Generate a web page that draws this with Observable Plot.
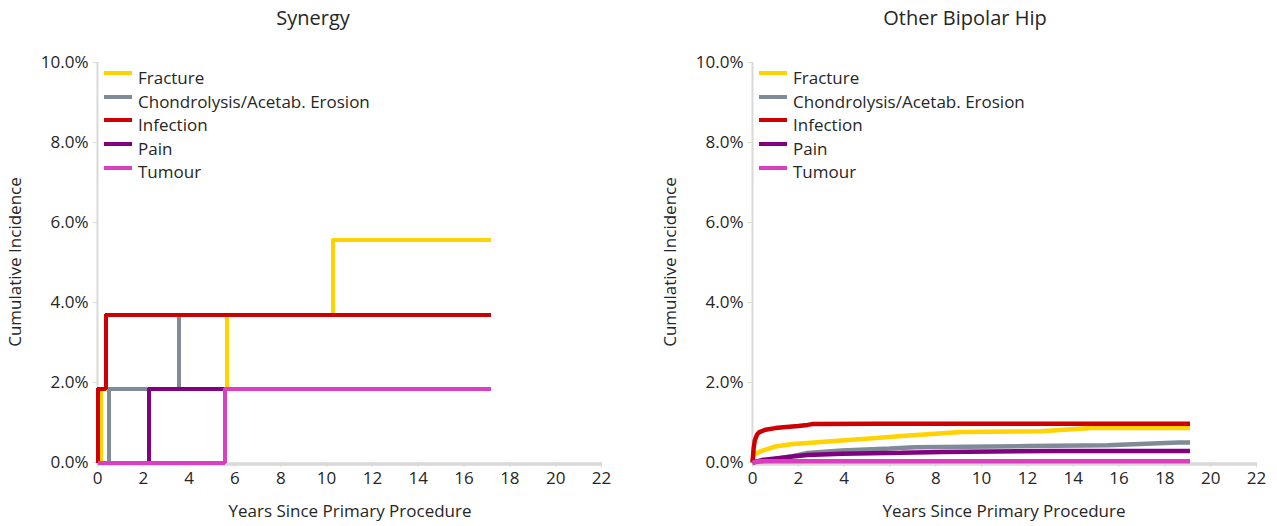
<!DOCTYPE html>
<html><head><meta charset="utf-8">
<script src="https://cdn.jsdelivr.net/npm/d3@7"></script>
<script src="https://cdn.jsdelivr.net/npm/@observablehq/plot@0.6"></script>
<style>
body{margin:0;background:#fff;font-family:"Open Sans",sans-serif;color:#262626}
#wrap{display:flex;width:1277px;height:526px;overflow:hidden}
.panel{position:relative;height:526px;flex:none}
.panel svg{display:block}
.title{position:absolute;top:5px;width:400px;font-size:20px;line-height:26px;text-align:center;white-space:nowrap}
.ylab{position:absolute;width:260px;height:22px;font-size:17px;line-height:22px;text-align:center;transform:rotate(-90deg);white-space:nowrap}
.xlab{position:absolute;width:320px;top:500px;font-size:17px;line-height:22px;text-align:center;white-space:nowrap}
.legend{position:absolute;top:67px}
.row{display:flex;align-items:flex-start;height:23.6px}
.sw{width:28px;height:4px;margin-top:4.3px;margin-right:6px}
.lt{font-size:17px;line-height:22px;white-space:nowrap}
</style></head>
<body><div id="wrap"></div>
<script>
// Categories and colours
const causes = ["Fracture", "Chondrolysis/Acetab. Erosion", "Infection", "Pain", "Tumour"];
const colors = ["#FFD200", "#7F8B98", "#CC0000", "#800080", "#DA3FBF"];
const xTicks = [0, 2, 4, 6, 8, 10, 12, 14, 16, 18, 20, 22];
const yTicks = [0, 2, 4, 6, 8, 10];

// Synergy (cumulative incidence %, step functions)
const synFractureT = [0, 0.17, 5.64, 10.27, 17.19];
const synFractureV = [0, 1.85, 3.70, 5.56, 5.56];
const synChondT = [0, 0.52, 3.57, 17.19];
const synChondV = [0, 1.85, 3.70, 3.70];
const synInfectionT = [0, 0.02, 0.35, 17.19];
const synInfectionV = [0, 1.85, 3.70, 3.70];
const synPainT = [0, 2.26, 17.19];
const synPainV = [0, 1.85, 1.85];
const synTumourT = [0, 5.57, 17.19];
const synTumourV = [0, 1.85, 1.85];

// Other Bipolar Hip
const obFractureT = [0, 0.05, 0.1, 0.4, 1.0, 1.75, 2.4, 3.9, 5.4, 6.5, 7.5, 9.1, 12.6, 13.6, 14.8, 19.1];
const obFractureV = [0, 0.15, 0.21, 0.29, 0.40, 0.46, 0.49, 0.55, 0.61, 0.66, 0.70, 0.76, 0.78, 0.82, 0.86, 0.86];
const obChondT = [0, 0.5, 1.0, 1.75, 2.4, 3.9, 6.0, 7.1, 12.1, 15.5, 18.6, 19.1];
const obChondV = [0, 0.04, 0.09, 0.16, 0.24, 0.30, 0.35, 0.38, 0.41, 0.43, 0.50, 0.50];
const obInfectionT = [0, 0.05, 0.1, 0.2, 0.3, 0.57, 1.0, 1.35, 2.0, 2.4, 2.6, 5.5, 19.1];
const obInfectionV = [0, 0.35, 0.55, 0.70, 0.76, 0.82, 0.86, 0.88, 0.91, 0.94, 0.96, 0.97, 0.97];
const obPainT = [0, 0.4, 1.0, 1.75, 2.4, 3.9, 6.5, 8.3, 13.2, 19.1];
const obPainV = [0, 0.06, 0.10, 0.15, 0.19, 0.22, 0.245, 0.265, 0.29, 0.29];
const obTumourT = [0, 0.3, 19.1];
const obTumourV = [0, 0.03, 0.03];

function rows(cause, ts, vs) { return ts.map((t, i) => ({cause, t, v: vs[i]})); }

const synData = [
  ...rows(causes[0], synFractureT, synFractureV),
  ...rows(causes[1], synChondT, synChondV),
  ...rows(causes[2], synInfectionT, synInfectionV),
  ...rows(causes[3], synPainT, synPainV),
  ...rows(causes[4], synTumourT, synTumourV)
];
const obData = [
  ...rows(causes[0], obFractureT, obFractureV),
  ...rows(causes[1], obChondT, obChondV),
  ...rows(causes[2], obInfectionT, obInfectionV),
  ...rows(causes[3], obPainT, obPainV),
  ...rows(causes[4], obTumourT, obTumourV)
];

function panel(cfg) {
  const div = document.createElement("div");
  div.className = "panel";
  div.style.width = cfg.width + "px";
  const chart = Plot.plot({
    width: cfg.width, height: 526,
    marginLeft: cfg.ml, marginRight: cfg.mr, marginTop: 62, marginBottom: 64,
    style: {fontFamily: "'Open Sans', sans-serif", fontSize: "17px", color: "#262626", background: "#fff"},
    x: {domain: [0, 22]},
    y: {domain: [0, 10]},
    color: {domain: causes, range: colors},
    marks: [
      Plot.ruleX([0], {y1: 0, y2: 10, stroke: "#d9d9d9", strokeWidth: 2}),
      Plot.ruleY([0], {x1: 0, x2: 22, stroke: "#d9d9d9", strokeWidth: 3.5, dy: 1.5}),
      Plot.axisX({ticks: xTicks, tickSize: 5, tickPadding: 4, fontSize: 17, stroke: "#d9d9d9", fill: "#262626", label: null, tickFormat: d => String(d)}),
      Plot.axisY({ticks: yTicks, tickSize: 4, tickPadding: 5, fontSize: 17, stroke: "#d9d9d9", fill: "#262626", label: null, tickFormat: d => d.toFixed(1) + "%"}),
      Plot.line(cfg.data, {x: "t", y: "v", z: "cause", stroke: "cause", curve: cfg.curve, strokeWidth: cfg.sw, strokeLinejoin: "miter", strokeLinecap: "butt", shapeRendering: cfg.crisp ? "crispEdges" : "auto"})
    ]
  });
  div.appendChild(chart);
  const title = document.createElement("div");
  title.className = "title"; title.textContent = cfg.title;
  title.style.left = (cfg.tc - 200) + "px";
  div.appendChild(title);
  const yl = document.createElement("div");
  yl.className = "ylab"; yl.textContent = "Cumulative Incidence";
  yl.style.left = (cfg.yc - 130) + "px"; yl.style.top = (262 - 11) + "px";
  div.appendChild(yl);
  const xl = document.createElement("div");
  xl.className = "xlab"; xl.textContent = "Years Since Primary Procedure";
  xl.style.left = (cfg.xc - 160) + "px";
  div.appendChild(xl);
  const lg = document.createElement("div");
  lg.className = "legend"; lg.style.left = cfg.ll + "px";
  causes.forEach((c, i) => {
    const r = document.createElement("div"); r.className = "row";
    const s = document.createElement("div"); s.className = "sw"; s.style.background = colors[i];
    const t = document.createElement("div"); t.className = "lt"; t.textContent = c;
    r.appendChild(s); r.appendChild(t); lg.appendChild(r);
  });
  div.appendChild(lg);
  return div;
}

const wrap = document.getElementById("wrap");
wrap.appendChild(panel({width: 638, ml: 97, mr: 37, data: synData, curve: "step-after", sw: 4, crisp: true, title: "Synergy", tc: 313, yc: 15, xc: 350, ll: 104}));
wrap.appendChild(panel({width: 639, ml: 114, mr: 21, data: obData, curve: "linear", sw: 4.5, crisp: false, title: "Other Bipolar Hip", tc: 327, yc: 32, xc: 366, ll: 121}));
</script>
</body></html>
